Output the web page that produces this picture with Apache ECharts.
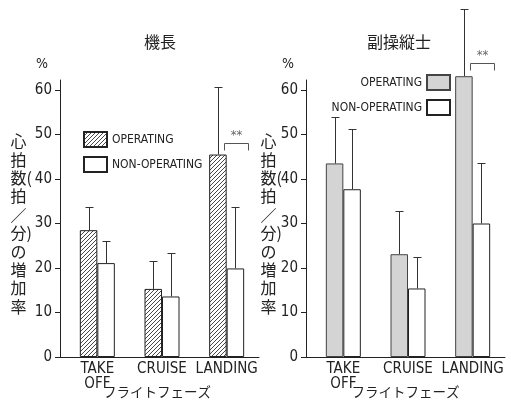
<!DOCTYPE html>
<html><head><meta charset="utf-8">
<script src="https://cdn.jsdelivr.net/npm/echarts@6/dist/echarts.min.js"></script>
<style>html,body{margin:0;padding:0;background:#fff}#c{width:511px;height:404px}</style>
</head><body><div id="c"></div>
<script>
// Flight phases and tick values
const phases = ['TAKE\nOFF', 'CRUISE', 'LANDING'];
const yTicks = [0, 10, 20, 30, 40, 50, 60];
const groupNames = ['OPERATING', 'NON-OPERATING'];

// 機長: mean increase and top of error bar (%)
const captainOp = [28.5, 15.3, 45.5];
const captainOpErr = [33.6, 21.6, 60.6];
const captainNonOp = [21.1, 13.6, 19.9];
const captainNonOpErr = [26.1, 23.3, 33.6];

// 副操縦士: mean increase and top of error bar (%)
const foOp = [43.5, 23.1, 63.1];
const foOpErr = [54.0, 32.7, 78.1];
const foNonOp = [37.7, 15.4, 30.0];
const foNonOpErr = [51.2, 22.4, 43.7];

// significance bracket: [category index, bracket level]
const captainSig = [2, 48.0];
const foSig = [2, 66.1];

const LATIN = '"Noto Sans Condensed", "Liberation Sans Narrow", "DejaVu Sans Condensed", "Liberation Sans", sans-serif';
const CJK = '"Noto Sans CJK JP", "Noto Sans CJK SC", sans-serif';
const BAR_W = 17.5;
const CAP = 4;
const INK = '#222';

// layout of the two panels
const panels = [
  { left: 65, right: 252, axisX: 60, titleX: 160, labelX: 18.5, title: '機長', nameShift: 10 },
  { left: 311, right: 6, axisX: 306, titleX: 399, labelX: 268.5, title: '副操縦士', nameShift: 5 }
];
const GRID_TOP = 80, GRID_BOTTOM = 47, Y_MAX = 62.25;

function hatchPattern() {
  const s = 4;
  const c = document.createElement('canvas');
  c.width = s; c.height = s;
  const g = c.getContext('2d');
  g.fillStyle = '#fff';
  g.fillRect(0, 0, s, s);
  g.strokeStyle = '#333';
  g.lineWidth = 0.9;
  g.beginPath();
  g.moveTo(-1, s + 1); g.lineTo(s + 1, -1);
  g.moveTo(-1, 1); g.lineTo(1, -1);
  g.moveTo(s - 1, s + 1); g.lineTo(s + 1, s - 1);
  g.stroke();
  return c;
}

function errorSeries(gridIdx, opVals, opErr, nonVals, nonErr) {
  const data = [];
  opVals.forEach((v, i) => data.push([i, v, opErr[i], -1]));
  nonVals.forEach((v, i) => data.push([i, v, nonErr[i], 1]));
  return {
    type: 'custom', xAxisIndex: gridIdx, yAxisIndex: gridIdx, z: 5, clip: false,
    silent: true,
    encode: { x: 0, y: [1, 2] },
    data,
    renderItem(params, api) {
      const cat = api.value(0), base = api.value(1), top = api.value(2), side = api.value(3);
      const p0 = api.coord([cat, base]);
      const p1 = api.coord([cat, top]);
      const x = Math.round(p0[0] + side * BAR_W / 2) + 0.5;
      const yt = Math.round(p1[1]) + 0.5;
      const st = { stroke: '#333', lineWidth: 1 };
      return {
        type: 'group', children: [
          { type: 'line', shape: { x1: x, y1: p0[1], x2: x, y2: yt }, style: st },
          { type: 'line', shape: { x1: x - CAP, y1: yt, x2: x + CAP, y2: yt }, style: st }
        ]
      };
    }
  };
}

function sigSeries(gridIdx, sig) {
  return {
    type: 'custom', xAxisIndex: gridIdx, yAxisIndex: gridIdx, z: 6, clip: false,
    silent: true,
    encode: { x: 0, y: 1 },
    data: [sig],
    renderItem(params, api) {
      const c = api.coord([api.value(0), api.value(1)]);
      const x1 = Math.round(c[0] - 2.5) + 0.5, x2 = Math.round(c[0] + 21.5) + 0.5, y = Math.round(c[1]) + 0.5;
      const st = { stroke: '#555', lineWidth: 1, fill: 'none' };
      return {
        type: 'group', children: [
          { type: 'polyline', shape: { points: [[x1, y + 7], [x1, y], [x2, y], [x2, y + 7]] }, style: st },
          { type: 'text', style: { text: '**', x: (x1 + x2) / 2, y: y - 1, align: 'center', verticalAlign: 'bottom', font: '13px ' + LATIN, fill: '#666' } }
        ]
      };
    }
  };
}

const grids = panels.map(p => ({ left: p.left, right: p.right, top: GRID_TOP, bottom: GRID_BOTTOM, outerBoundsMode: 'none', containLabel: false }));

const xAxes = panels.map((p, i) => ({
  type: 'category', gridIndex: i, data: phases,
  axisLine: { lineStyle: { color: INK, width: 1 } },
  axisTick: { inside: true, length: 4, lineStyle: { color: INK } },
  axisLabel: { color: INK, fontFamily: LATIN, fontSize: 15, lineHeight: 15, margin: 5, interval: 0 },
  name: 'フライトフェーズ', nameLocation: 'middle', nameGap: 28, nameMoveOverlap: false,
  nameTextStyle: { color: INK, fontFamily: CJK, fontSize: 13.5, padding: [0, p.nameShift, 0, 0] }
}));

const yAxes = panels.map((p, i) => ({
  type: 'value', gridIndex: i, min: 0, max: Y_MAX, interval: 10,
  offset: p.left - p.axisX,
  splitLine: { show: false },
  axisLine: { show: true, lineStyle: { color: INK, width: 1 } },
  axisTick: { show: true, length: 5, lineStyle: { color: INK }, customValues: yTicks },
  axisLabel: { color: INK, fontFamily: LATIN, fontSize: 15, margin: 8, customValues: yTicks },
  name: '%', nameLocation: 'end', nameGap: 9,
  nameTextStyle: { color: INK, fontFamily: LATIN, fontSize: 14, align: 'right', padding: [0, 12, 0, 0] }
}));

const hatch = { image: hatchPattern(), repeat: 'repeat' };

const series = [
  { name: '機長|' + groupNames[0], type: 'bar', xAxisIndex: 0, yAxisIndex: 0, data: captainOp, barWidth: BAR_W, barGap: '0%', clip: false,
    itemStyle: { color: hatch, borderColor: '#222', borderWidth: 1 } },
  { name: '機長|' + groupNames[1], type: 'bar', xAxisIndex: 0, yAxisIndex: 0, data: captainNonOp, barWidth: BAR_W, barGap: '0%', clip: false,
    itemStyle: { color: '#fff', borderColor: '#222', borderWidth: 1 } },
  { name: '副操縦士|' + groupNames[0], type: 'bar', xAxisIndex: 1, yAxisIndex: 1, data: foOp, barWidth: BAR_W, barGap: '0%', clip: false,
    itemStyle: { color: '#d4d4d4', borderColor: '#444', borderWidth: 1 } },
  { name: '副操縦士|' + groupNames[1], type: 'bar', xAxisIndex: 1, yAxisIndex: 1, data: foNonOp, barWidth: BAR_W, barGap: '0%', clip: false,
    itemStyle: { color: '#fff', borderColor: '#222', borderWidth: 1 } },
  errorSeries(0, captainOp, captainOpErr, captainNonOp, captainNonOpErr),
  errorSeries(1, foOp, foOpErr, foNonOp, foNonOpErr),
  sigSeries(0, captainSig),
  sigSeries(1, foSig)
];

const legendText = { color: INK, fontFamily: LATIN, fontSize: 12, padding: [0, 0, 0, 0] };
const legends = [
  { data: groupNames.map(n => '機長|' + n), left: 83, top: 131, orient: 'vertical', itemGap: 8, padding: 0,
    icon: 'rect', itemWidth: 23, itemHeight: 15, selectedMode: false, textStyle: legendText,
    formatter: n => n.split('|')[1] },
  { data: groupNames.map(n => '副操縦士|' + n), right: 60, top: 74, orient: 'vertical', align: 'right', itemGap: 8, padding: 0,
    icon: 'rect', itemWidth: 23, itemHeight: 15, selectedMode: false, textStyle: legendText,
    formatter: n => n.split('|')[1] }
];

// vertical axis caption, one character per line; hidden parens keep the column centred
const caption = '心\n拍\n{h|)}数(\n拍\n／\n{h|(}分)\nの\n増\n加\n率';

const graphic = [];
panels.forEach(p => {
  graphic.push({ type: 'text', x: p.titleX, y: 42, silent: true,
    style: { text: p.title, font: '16px ' + CJK, fill: INK, align: 'center', verticalAlign: 'middle' } });
  graphic.push({ type: 'text', x: p.labelX, y: 224, silent: true,
    style: { text: caption, font: '16px ' + CJK, fill: INK, align: 'center', verticalAlign: 'middle', lineHeight: 18.4,
      rich: { h: { fill: 'rgba(0,0,0,0)', font: '16px ' + CJK } } } });
  // join the x-axis line to the shifted y-axis line
  const y0 = 404 - GRID_BOTTOM + 0.5;
  graphic.push({ type: 'line', silent: true, shape: { x1: p.axisX, y1: y0, x2: p.left, y2: y0 }, style: { stroke: INK, lineWidth: 1 } });
});

const chart = echarts.init(document.getElementById('c'), null, { renderer: 'canvas' });
chart.setOption({
  animation: false,
  backgroundColor: '#fff',
  grid: grids,
  xAxis: xAxes,
  yAxis: yAxes,
  legend: legends,
  series,
  graphic
});
</script>
</body></html>
